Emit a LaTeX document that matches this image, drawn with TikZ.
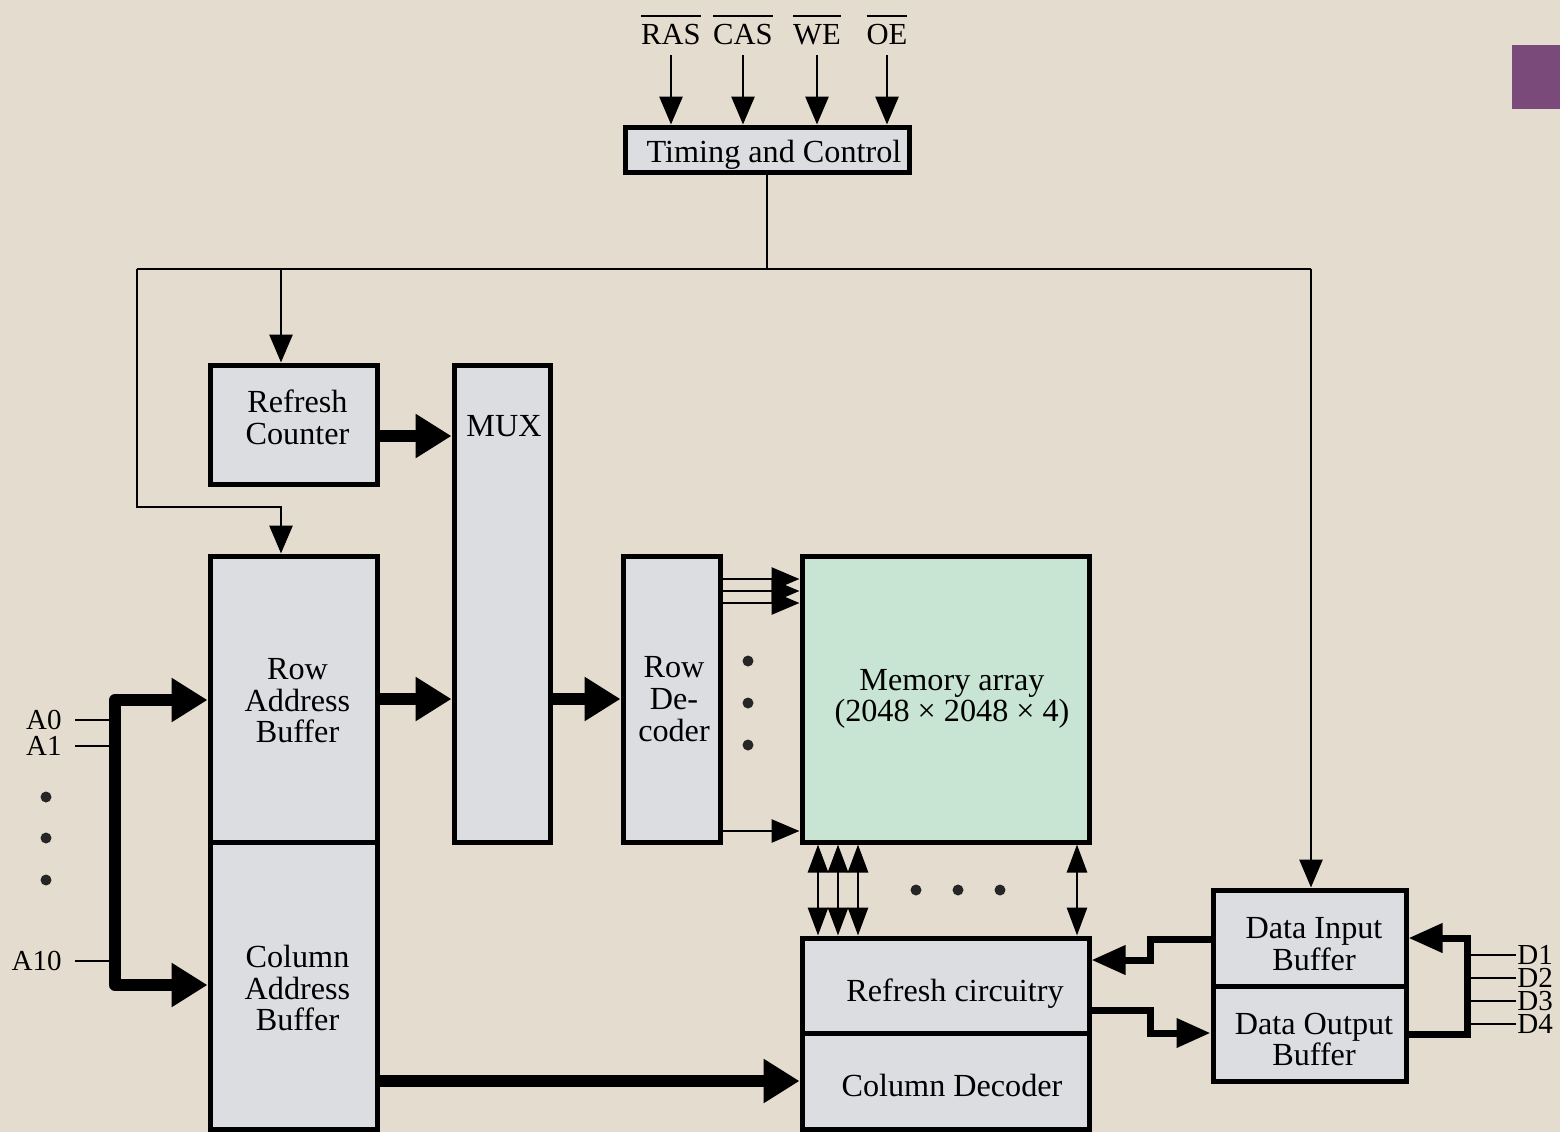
\documentclass[tikz,border=0pt]{standalone}
\usepackage{fontspec}
\setmainfont{Liberation Serif}
\usetikzlibrary{arrows.meta,calc}
\definecolor{bgc}{HTML}{E4DCCE}
\definecolor{boxgray}{HTML}{DCDDE0}
\definecolor{mint}{HTML}{C8E5D3}
\definecolor{tabpurple}{HTML}{7A4A7B}
\newcommand\ovl[1]{\leavevmode\vbox{\hrule height 1.2pt\kern 3.5pt\hbox{#1}}}
\newcommand\blk[6][]{\node[box,#1,minimum width={(#4-#2)*0.5pt},minimum height={(#5-#3)*0.5pt}] (#6) at ({(#2+#4)/2},{(#3+#5)/2}) {};}
\begin{document}
\begin{tikzpicture}[x=0.5pt,y=-0.5pt,
  box/.style={draw,line width=2.5pt,fill=boxgray,inner sep=0pt},
  lbl/.style={inner sep=1pt,align=center,font=\fontsize{16.1}{15.8}\selectfont},
  sig/.style={inner sep=1pt,font=\fontsize{15.3}{15.3}\selectfont},
  pin/.style={inner sep=0.5pt,font=\fontsize{14.5}{14.5}\selectfont},
  thin/.style={line width=1.4pt},
  thinarr/.style={line width=1.4pt,-{Triangle[length=14pt,width=11.5pt]}},
  biarr/.style={line width=1.4pt,{Triangle[length=14pt,width=10pt]}-{Triangle[length=14pt,width=10pt]}},
  fatarr/.style={line width=6pt,line join=round,-{Triangle[length=18pt,width=21pt]}},
  medarr/.style={line width=3.5pt,-{Triangle[length=17pt,width=14pt]}},
  dot/.style={circle,fill=black!85,inner sep=0pt,minimum size=5.5pt}]
\useasboundingbox (0,0) rectangle (1560,1132);
\fill[bgc] (0,0) rectangle (1560,1132);
\fill[tabpurple] (1512,45) rectangle (1560,109);

% blocks
\blk{625}{127}{909}{172}{tc}
\blk{210}{365}{377}{484}{rc}
\blk{454}{365}{550}{842}{mux}
\blk{210}{556}{377}{842}{rab}
\blk{210}{842}{377}{1129}{cab}
\blk{623}{556}{720}{842}{rd}
\blk[fill=mint]{802}{556}{1089}{842}{ma}
\blk{802}{938}{1089}{1033}{rfc}
\blk{802}{1033}{1089}{1129}{cd}
\blk{1213}{890}{1406}{986}{dib}
\blk{1213}{986}{1406}{1081}{dob}

% block texts
\node[lbl] (tcT) at (774,154.5) {Timing and Control};
\node[lbl] (rcT) at (297.5,417.5) {Refresh\\Counter};
\node[lbl] (muxT) at (504,426) {MUX};
\node[lbl] (rabT) at (297.5,701) {Row\\Address\\Buffer};
\node[lbl] (cabT) at (297.5,988) {Column\\Address\\Buffer};
\node[lbl] (rdT) at (674,699) {Row\\De-\\coder};
\node[lbl] (maT) at (952,699) {Memory array\\(2048 × 2048 × 4)};
\node[lbl] (rfcT) at (955,994) {Refresh circuitry};
\node[lbl] (cdT) at (952,1085) {Column Decoder};
\node[lbl] (dibT) at (1314,944) {Data Input\\Buffer};
\node[lbl] (dobT) at (1314,1039.5) {Data Output\\Buffer};

% control signals
\node[sig] (ras) at (671,30) {\ovl{RAS}};
\node[sig] (cas) at (743,30) {\ovl{CAS}};
\node[sig] (we) at (817,30) {\ovl{WE}};
\node[sig] (oe) at (887,30) {\ovl{OE}};
\foreach \s in {ras,cas,we,oe}{
  \draw[thinarr] ([yshift=-4pt]\s.south) -- (\s.south |- tc.north);
}

% control distribution
\coordinate (jL) at (137,269);
\coordinate (jR) at (1311,269);
\coordinate (jRC) at (281,269);
\coordinate (jRA) at (281,507);
\draw[thin] (tc.south) -- (tc.south |- jL);
\draw[thin] (jL) -- (jR);
\draw[thinarr] (jR) -- (jR |- dib.north);
\draw[thinarr] (jRC) -- (jRC |- rc.north);
\draw[thinarr] (jL) |- (jRA) -- (jRA |- rab.north);

% fat data paths
\draw[fatarr] (rc.east |- 0,436) -- (mux.west |- 0,436);
\draw[fatarr] (rab.east |- 0,699) -- (mux.west |- 0,699);
\draw[fatarr] (mux.east |- 0,699) -- (rd.west |- 0,699);
\draw[fatarr] (cab.east |- 0,1081) -- (cd.west |- 0,1081);

% address inputs
\coordinate (bt) at (115,700);
\coordinate (bb) at (115,985);
\node[pin,anchor=east] (a0) at (63,720) {A0};
\node[pin,anchor=east] (a1) at (63,746) {A1};
\node[pin,anchor=east] (a10) at (63,961) {A10};
\foreach \a in {a0,a1,a10}{ \draw[thin] ([xshift=6pt]\a.east) -- (\a -| bt); }
\node[dot] (ad1) at (46,797) {};
\node[dot] (ad2) at (46,838) {};
\node[dot] (ad3) at (46,880) {};
\draw[fatarr] (bb) -- (bt) -- (rab.west |- bt);
\draw[fatarr] (bt) -- (bb) -- (cab.west |- bb);

% row decoder outputs
\foreach \y in {579,591,603,831}{
  \draw[thinarr] (rd.east |- 0,\y) -- (ma.west |- 0,\y);
}
\node[dot] (rd1) at (748,661) {};
\node[dot] (rd2) at (748,703) {};
\node[dot] (rd3) at (748,745) {};

% array <-> refresh circuitry
\foreach \x in {818,838,858,1077}{
  \draw[biarr] (ma.south -| \x,0) -- (rfc.north -| \x,0);
}
\node[dot] (cd1) at (916,890) {};
\node[dot] (cd2) at (958,890) {};
\node[dot] (cd3) at (1000,890) {};

% data buffers
\draw[medarr] (dib.west |- 0,939) -| (1150,960) -- (rfc.east |- 0,960);
\draw[medarr] (rfc.east |- 0,1010) -| (1150,1033) -- (dob.west |- 0,1033);
\draw[medarr] (dob.east |- 0,1034) -| (1467,938) -- (dib.east |- 0,938);

\node[pin,anchor=west] (d1) at (1516,955) {D1};
\node[pin,anchor=west] (d2) at (1516,978) {D2};
\node[pin,anchor=west] (d3) at (1516,1001) {D3};
\node[pin,anchor=west] (d4) at (1516,1024) {D4};
\foreach \d in {d1,d2,d3,d4}{ \draw[thin] (\d.west) -- (\d -| 1467,0); }
\end{tikzpicture}
\end{document}
